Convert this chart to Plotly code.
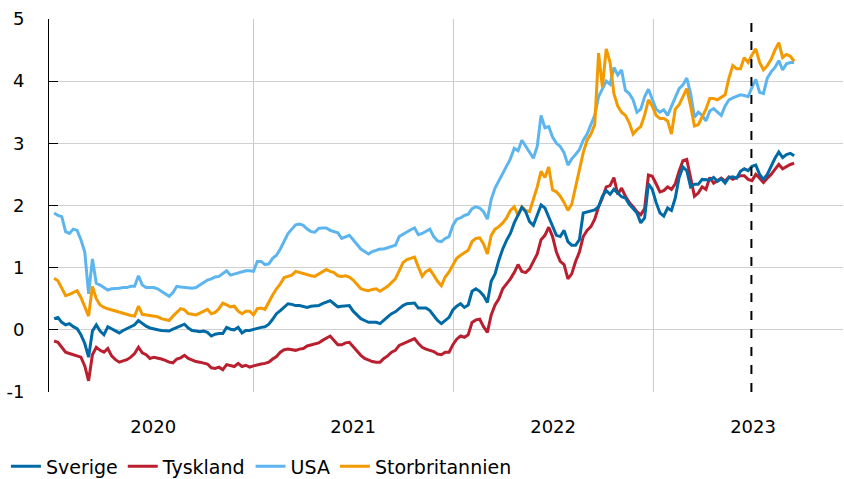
import pandas as pd
import plotly.graph_objects as go

# Weekly observations (Fridays), 10-year government bond yields, per cent
START_DATE = "2020-01-03"
dates = pd.date_range(START_DATE, periods=194, freq="7D")

usa = [
    1.88, 1.84, 1.82, 1.58, 1.55, 1.62, 1.60, 1.45, 1.25, 0.58, 1.14, 0.75, 0.72, 0.68, 0.64, 0.66, 0.66, 0.67, 0.68, 0.68, 0.70, 0.70, 0.87, 0.72, 0.68,
    0.68, 0.68, 0.66, 0.62, 0.58, 0.54, 0.60, 0.70, 0.69, 0.68, 0.68, 0.67, 0.68, 0.72, 0.76, 0.80, 0.82, 0.85, 0.86, 0.90, 0.95, 0.88, 0.90, 0.92, 0.94, 0.95,
    0.95, 0.94, 1.10, 1.10, 1.05, 1.06, 1.15, 1.20, 1.30, 1.42, 1.55, 1.62, 1.69, 1.70, 1.68, 1.62, 1.58, 1.57, 1.63, 1.64, 1.64, 1.60, 1.58, 1.56, 1.47, 1.50,
    1.52, 1.45, 1.38, 1.30, 1.26, 1.22, 1.26, 1.28, 1.30, 1.30, 1.32, 1.34, 1.36, 1.50, 1.54, 1.58, 1.61, 1.64, 1.53, 1.55, 1.58, 1.62, 1.50, 1.43, 1.42, 1.47,
    1.50, 1.68, 1.78, 1.80, 1.84, 1.86, 1.95, 1.98, 1.96, 1.90, 1.78, 2.10, 2.28, 2.40, 2.50, 2.62, 2.75, 2.92, 2.88, 3.05, 2.95, 2.85, 2.76, 2.95, 3.45, 3.25,
    3.27, 3.10, 3.00, 2.95, 2.85, 2.65, 2.75, 2.82, 2.90, 3.05, 3.15, 3.30, 3.45, 3.75, 3.88, 4.00, 3.95, 4.22, 4.10, 4.18, 3.85, 3.80, 3.70, 3.50, 3.55, 3.75,
    3.87, 3.72, 3.55, 3.50, 3.54, 3.45, 3.60, 3.75, 3.88, 3.94, 4.05, 3.80, 3.42, 3.50, 3.45, 3.36, 3.52, 3.56, 3.50, 3.45, 3.60, 3.70, 3.73, 3.76, 3.78, 3.77,
    3.75, 3.90, 4.03, 3.82, 3.80, 4.05, 4.15, 4.22, 4.33, 4.18, 4.28, 4.30, 4.30,
]

storbritannien = [
    0.83, 0.79, 0.67, 0.55, 0.57, 0.60, 0.63, 0.52, 0.38, 0.22, 0.70, 0.50, 0.40, 0.36, 0.34, 0.32, 0.31, 0.28, 0.27, 0.24, 0.23, 0.22, 0.38, 0.25, 0.24,
    0.24, 0.22, 0.21, 0.18, 0.16, 0.15, 0.22, 0.28, 0.34, 0.32, 0.26, 0.25, 0.24, 0.27, 0.30, 0.33, 0.26, 0.28, 0.34, 0.43, 0.40, 0.37, 0.38, 0.30, 0.26, 0.30,
    0.30, 0.24, 0.34, 0.35, 0.33, 0.45, 0.56, 0.66, 0.74, 0.84, 0.86, 0.88, 0.94, 0.92, 0.90, 0.88, 0.87, 0.86, 0.90, 0.94, 0.97, 0.94, 0.92, 0.87, 0.86, 0.87,
    0.85, 0.80, 0.73, 0.66, 0.64, 0.63, 0.65, 0.66, 0.62, 0.66, 0.70, 0.76, 0.82, 0.95, 1.08, 1.13, 1.15, 1.17, 1.01, 0.86, 0.94, 0.97, 0.88, 0.78, 0.71, 0.85,
    0.93, 1.05, 1.15, 1.20, 1.24, 1.28, 1.42, 1.47, 1.48, 1.38, 1.22, 1.52, 1.62, 1.66, 1.72, 1.80, 1.92, 1.98, 1.84, 1.98, 1.92, 1.90, 2.10, 2.30, 2.55, 2.45,
    2.62, 2.25, 2.22, 2.15, 2.05, 1.92, 2.02, 2.30, 2.60, 2.85, 3.05, 3.15, 3.30, 4.45, 3.90, 4.52, 4.30, 3.80, 3.60, 3.50, 3.45, 3.33, 3.15, 3.22, 3.27, 3.45,
    3.70, 3.60, 3.45, 3.40, 3.40, 3.36, 3.15, 3.55, 3.62, 3.76, 3.88, 3.60, 3.28, 3.30, 3.42, 3.55, 3.72, 3.72, 3.70, 3.74, 3.78, 4.05, 4.25, 4.20, 4.20, 4.38,
    4.30, 4.42, 4.52, 4.30, 4.18, 4.25, 4.35, 4.50, 4.62, 4.38, 4.43, 4.40, 4.32,
]

sverige = [
    0.18, 0.20, 0.12, 0.08, 0.10, 0.05, 0.02, -0.08, -0.22, -0.44, -0.02, 0.08, -0.02, -0.08, 0.05, 0.02, -0.02, -0.05, -0.01, 0.02, 0.05, 0.08, 0.15, 0.10, 0.06,
    0.03, 0.01, 0.00, -0.01, -0.02, -0.02, 0.01, 0.04, 0.06, 0.09, 0.03, -0.01, -0.02, -0.03, -0.02, -0.04, -0.10, -0.07, -0.06, -0.06, 0.04, 0.01, 0.00, 0.04, -0.05, -0.01,
    -0.01, 0.01, 0.02, 0.04, 0.05, 0.09, 0.17, 0.26, 0.31, 0.37, 0.42, 0.41, 0.39, 0.39, 0.37, 0.36, 0.38, 0.38, 0.39, 0.42, 0.44, 0.47, 0.42, 0.37, 0.38, 0.39,
    0.39, 0.30, 0.24, 0.18, 0.15, 0.12, 0.12, 0.12, 0.10, 0.16, 0.21, 0.26, 0.29, 0.34, 0.39, 0.42, 0.43, 0.43, 0.35, 0.35, 0.35, 0.31, 0.22, 0.15, 0.10, 0.15,
    0.20, 0.32, 0.38, 0.42, 0.36, 0.40, 0.62, 0.66, 0.62, 0.55, 0.44, 0.78, 0.90, 1.12, 1.30, 1.44, 1.55, 1.72, 1.85, 1.97, 1.90, 1.74, 1.68, 1.85, 2.01, 1.96,
    1.82, 1.68, 1.52, 1.50, 1.60, 1.42, 1.36, 1.36, 1.45, 1.88, 1.90, 1.91, 1.93, 1.98, 2.15, 2.24, 2.18, 2.26, 2.20, 2.14, 2.12, 2.02, 1.95, 1.88, 1.72, 1.80,
    2.35, 2.26, 2.05, 1.88, 1.83, 1.96, 1.92, 2.12, 2.45, 2.62, 2.56, 2.30, 2.34, 2.34, 2.42, 2.42, 2.41, 2.45, 2.39, 2.43, 2.36, 2.45, 2.46, 2.44, 2.55, 2.59,
    2.56, 2.63, 2.65, 2.50, 2.42, 2.50, 2.64, 2.76, 2.86, 2.77, 2.82, 2.84, 2.80,
]

tyskland = [
    -0.18, -0.20, -0.28, -0.36, -0.38, -0.40, -0.41, -0.44, -0.58, -0.82, -0.40, -0.28, -0.33, -0.36, -0.30, -0.42, -0.48, -0.52, -0.50, -0.48, -0.44, -0.38, -0.28, -0.37, -0.40,
    -0.46, -0.44, -0.45, -0.47, -0.49, -0.52, -0.53, -0.47, -0.45, -0.41, -0.46, -0.49, -0.51, -0.52, -0.53, -0.55, -0.61, -0.62, -0.60, -0.64, -0.56, -0.57, -0.59, -0.54, -0.59, -0.57,
    -0.60, -0.58, -0.56, -0.55, -0.54, -0.52, -0.47, -0.43, -0.36, -0.32, -0.31, -0.32, -0.33, -0.31, -0.30, -0.26, -0.24, -0.23, -0.21, -0.17, -0.13, -0.10, -0.17, -0.24, -0.24, -0.21,
    -0.20, -0.27, -0.34, -0.41, -0.46, -0.49, -0.51, -0.52, -0.52, -0.46, -0.42, -0.36, -0.33, -0.25, -0.22, -0.19, -0.16, -0.14, -0.22, -0.28, -0.31, -0.33, -0.35, -0.39, -0.40, -0.36,
    -0.36, -0.24, -0.15, -0.10, -0.12, -0.08, 0.12, 0.16, 0.17, 0.05, -0.04, 0.24, 0.40, 0.50, 0.66, 0.74, 0.82, 0.92, 1.05, 0.94, 0.92, 0.98, 1.10, 1.22, 1.45, 1.52,
    1.65, 1.50, 1.25, 1.10, 1.05, 0.82, 0.90, 1.10, 1.25, 1.50, 1.60, 1.66, 1.78, 1.98, 2.12, 2.30, 2.32, 2.45, 2.18, 2.28, 2.15, 2.05, 1.98, 1.90, 1.85, 1.95,
    2.49, 2.47, 2.35, 2.22, 2.24, 2.30, 2.26, 2.35, 2.55, 2.72, 2.74, 2.45, 2.15, 2.20, 2.30, 2.26, 2.45, 2.36, 2.40, 2.44, 2.39, 2.46, 2.42, 2.45, 2.48, 2.48,
    2.42, 2.40, 2.50, 2.44, 2.37, 2.44, 2.50, 2.58, 2.66, 2.59, 2.63, 2.66, 2.68,
]

for s in (usa, storbritannien, sverige, tyskland):
    assert len(s) == len(dates), len(s)

year_labels = ["2020", "2021", "2022", "2023"]
year_label_dates = ["2020-07-02", "2021-07-02", "2022-07-02", "2023-07-02"]
year_grid_dates = ["2021-01-01", "2022-01-01", "2023-01-01"]
marker_date = "2023-06-29"  # previous forecast round
y_ticks = [-1, 0, 1, 2, 3, 4, 5]
y_tick_text = ["-1", "0", "1", "2", "3", "4", "5"]

C_SE = "#006AA7"
C_DE = "#B91F2F"
C_US = "#5DB5EF"
C_UK = "#F39A00"

FONT = "DejaVu Sans"
TICK_SIZE = 18
LEGEND_SIZE = 19

fig = go.Figure()
# draw order: Sverige on top; legend order by legendrank
series = [
    ("Tyskland", tyskland, C_DE, 2),
    ("USA", usa, C_US, 3),
    ("Storbritannien", storbritannien, C_UK, 4),
    ("Sverige", sverige, C_SE, 1),
]
for name, vals, col, rank in series:
    fig.add_trace(go.Scatter(
        x=dates, y=vals, name=name, mode="lines",
        line=dict(color=col, width=3),
        legendrank=rank, hoverinfo="skip",
    ))

shapes = []
for d in year_grid_dates:
    shapes.append(dict(type="line", xref="x", yref="y", x0=d, x1=d, y0=-1, y1=5,
                       line=dict(color="#C8C8C8", width=1), layer="below"))
shapes.append(dict(type="line", xref="x", yref="y", x0=marker_date, x1=marker_date,
                   y0=-1, y1=5, line=dict(color="black", width=2, dash="dash"), layer="above"))

fig.update_layout(
    width=844, height=479,
    margin=dict(l=49, r=1, t=19, b=87, autoexpand=False),
    paper_bgcolor="white", plot_bgcolor="white",
    font=dict(family=FONT, size=TICK_SIZE, color="black"),
    showlegend=True,
    legend=dict(orientation="h", xref="container", yref="container",
                x=0.007, y=0.066, xanchor="left", yanchor="top",
                font=dict(family=FONT, size=LEGEND_SIZE, color="black"),
                itemwidth=30, tracegroupgap=0, traceorder="normal"),
    shapes=shapes,
    hovermode=False,
)
fig.update_xaxes(
    type="date", automargin=False,
    range=["2019-12-24 17:00", "2023-12-13 05:00"],
    tickmode="array", tickvals=year_label_dates, ticktext=year_labels,
    ticks="", showgrid=False, showline=False, zeroline=False,
    ticklabelstandoff=22,
    tickfont=dict(family=FONT, size=TICK_SIZE, color="black"),
)
fig.update_yaxes(
    range=[-1, 5], automargin=False,
    tickmode="array", tickvals=y_ticks, ticktext=y_tick_text,
    showgrid=True, gridcolor="#D0D0D0", gridwidth=1,
    zeroline=False,
    showline=True, linecolor="black", linewidth=1,
    ticks="inside", ticklen=9, tickcolor="black", tickwidth=1,
    ticklabelstandoff=20,
    tickfont=dict(family=FONT, size=TICK_SIZE, color="black"),
)

fig.write_html("out.html", config={"displayModeBar": False},
               post_script="document.body.style.margin='0';")
